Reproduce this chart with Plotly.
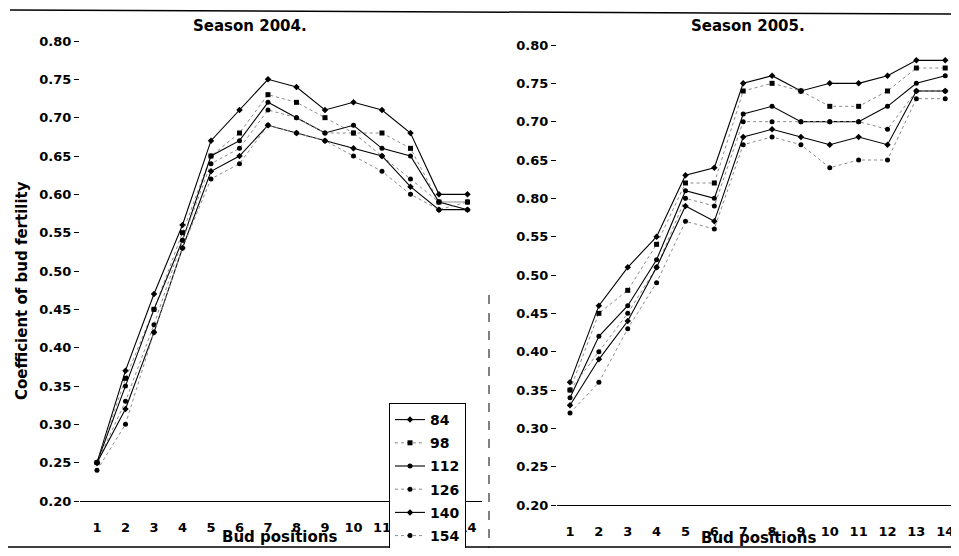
import plotly.graph_objects as go

positions = list(range(1, 15))
series_names = ["84", "98", "112", "126", "140", "154"]

s2004_84 = [0.25, 0.37, 0.47, 0.56, 0.67, 0.71, 0.75, 0.74, 0.71, 0.72, 0.71, 0.68, 0.60, 0.60]
s2004_98 = [0.25, 0.36, 0.45, 0.55, 0.65, 0.68, 0.73, 0.72, 0.70, 0.68, 0.68, 0.66, 0.59, 0.59]
s2004_112 = [0.25, 0.35, 0.45, 0.54, 0.65, 0.67, 0.72, 0.70, 0.68, 0.69, 0.66, 0.65, 0.59, 0.58]
s2004_126 = [0.25, 0.33, 0.43, 0.54, 0.64, 0.66, 0.71, 0.70, 0.68, 0.68, 0.65, 0.62, 0.59, 0.59]
s2004_140 = [0.25, 0.32, 0.42, 0.53, 0.63, 0.65, 0.69, 0.68, 0.67, 0.66, 0.65, 0.61, 0.58, 0.58]
s2004_154 = [0.24, 0.30, 0.42, 0.53, 0.62, 0.64, 0.69, 0.68, 0.67, 0.65, 0.63, 0.60, 0.58, 0.59]

s2005_84 = [0.36, 0.46, 0.51, 0.55, 0.63, 0.64, 0.75, 0.76, 0.74, 0.75, 0.75, 0.76, 0.78, 0.78]
s2005_98 = [0.35, 0.45, 0.48, 0.54, 0.62, 0.62, 0.74, 0.75, 0.74, 0.72, 0.72, 0.74, 0.77, 0.77]
s2005_112 = [0.34, 0.42, 0.46, 0.52, 0.61, 0.60, 0.71, 0.72, 0.70, 0.70, 0.70, 0.72, 0.75, 0.76]
s2005_126 = [0.35, 0.40, 0.45, 0.51, 0.60, 0.59, 0.70, 0.70, 0.70, 0.70, 0.70, 0.69, 0.74, 0.74]
s2005_140 = [0.33, 0.39, 0.44, 0.51, 0.59, 0.57, 0.68, 0.69, 0.68, 0.67, 0.68, 0.67, 0.74, 0.74]
s2005_154 = [0.32, 0.36, 0.43, 0.49, 0.57, 0.56, 0.67, 0.68, 0.67, 0.64, 0.65, 0.65, 0.73, 0.73]

y_tickvals = [0.20, 0.25, 0.30, 0.35, 0.40, 0.45, 0.50, 0.55, 0.60, 0.65, 0.70, 0.75, 0.80]
y_ticktext_2004 = ["0.20", "0.25", "0.30", "0.35", "0.40", "0.45", "0.50", "0.55", "0.60", "0.65", "0.70", "0.75", "0.80"]
y_ticktext_2005 = ["0.20", "0.25", "0.30", "0.35", "0.40", "0.45", "0.50", "0.55", "0.80", "0.65", "0.70", "0.75", "0.80"]

data_2004 = [s2004_84, s2004_98, s2004_112, s2004_126, s2004_140, s2004_154]
data_2005 = [s2005_84, s2005_98, s2005_112, s2005_126, s2005_140, s2005_154]

FONT = "DejaVu Sans"
solid = [True, False, True, False, True, False]
symbols = ["diamond", "square", "circle", "circle", "diamond", "circle"]

# The page body has an 8 px margin; size the figure so the page does not scroll.
OFF = 8
W, H = 951, 540


def px(x):
    return (x - OFF) / W


def py(y):
    return (H - (y - OFF)) / H


def line_style(is_solid):
    if is_solid:
        return dict(color="black", width=1.1)
    return dict(color="#8a8a8a", width=1, dash="dot")


fig = go.Figure()
for i, name in enumerate(series_names):
    fig.add_trace(go.Scatter(
        x=positions, y=data_2004[i], name=name, mode="lines+markers",
        line=line_style(solid[i]), marker=dict(symbol=symbols[i], size=5, color="black"),
        xaxis="x", yaxis="y", legendgroup=name, showlegend=True))
for i, name in enumerate(series_names):
    fig.add_trace(go.Scatter(
        x=positions, y=data_2005[i], name=name, mode="lines+markers",
        line=line_style(solid[i]), marker=dict(symbol=symbols[i], size=5, color="black"),
        xaxis="x2", yaxis="y2", legendgroup=name, showlegend=False))

tickfont = dict(family=FONT, size=13, color="black", weight="bold")

common_x = dict(tickmode="array", tickvals=positions, ticktext=[str(p) for p in positions],
                showgrid=False, zeroline=False, showline=True, linecolor="black", linewidth=1,
                ticks="", tickfont=tickfont, ticklabelstandoff=14, automargin=False)
common_y = dict(range=[0.2, 0.8], tickmode="array", tickvals=y_tickvals, showgrid=False,
                zeroline=False, showline=False, ticks="outside", ticklen=5, tickcolor="black",
                tickwidth=1, tickfont=tickfont, automargin=False)

fig.update_layout(
    width=W, height=H,
    margin=dict(l=0, r=0, t=0, b=0, autoexpand=False),
    paper_bgcolor="white", plot_bgcolor="white",
    font=dict(family=FONT, color="black"),
    xaxis=dict(domain=[px(80), px(482)], range=[0.404, 14.51], anchor="y", **common_x),
    yaxis=dict(domain=[py(501), py(41)], anchor="x", ticktext=y_ticktext_2004, **common_y),
    xaxis2=dict(domain=[px(557), px(951)], range=[0.549, 14.2], anchor="y2", **common_x),
    yaxis2=dict(domain=[py(505), py(45)], anchor="x2", ticktext=y_ticktext_2005, **common_y),
    legend=dict(x=px(389), y=py(403), xanchor="left", yanchor="top",
                bgcolor="white", bordercolor="black", borderwidth=1,
                font=dict(family=FONT, size=14, color="black", weight="bold"),
                tracegroupgap=2, itemwidth=30),
    showlegend=True,
)

ann_font = dict(family=FONT, size=15, color="black", weight="bold")
fig.add_annotation(text="Season 2004.", x=px(250), y=py(26), xref="paper", yref="paper",
                   showarrow=False, font=ann_font, xanchor="center", yanchor="middle")
fig.add_annotation(text="Season 2005.", x=px(748), y=py(26), xref="paper", yref="paper",
                   showarrow=False, font=ann_font, xanchor="center", yanchor="middle")
fig.add_annotation(text="Bud positions", x=px(279), y=py(537), xref="paper", yref="paper",
                   showarrow=False, font=ann_font, xanchor="center", yanchor="middle")
fig.add_annotation(text="Bud positions", x=px(758), y=py(538), xref="paper", yref="paper",
                   showarrow=False, font=ann_font, xanchor="center", yanchor="middle")
fig.add_annotation(text="Coefficient of bud fertility", x=px(22), y=py(291), xref="paper",
                   yref="paper", showarrow=False, font=ann_font, textangle=-90,
                   xanchor="center", yanchor="middle")

# scan frame lines
fig.add_shape(type="line", xref="paper", yref="paper", x0=px(10), y0=py(10), x1=px(951), y1=py(14),
              line=dict(color="black", width=1.5))
fig.add_shape(type="line", xref="paper", yref="paper", x0=px(8), y0=py(547), x1=px(951), y1=py(547),
              line=dict(color="black", width=1.5))
fig.add_shape(type="line", xref="paper", yref="paper", x0=px(489), y0=py(295), x1=px(489), y1=py(548),
              line=dict(color="black", width=1, dash="dash"))

fig.write_html("out.html")
